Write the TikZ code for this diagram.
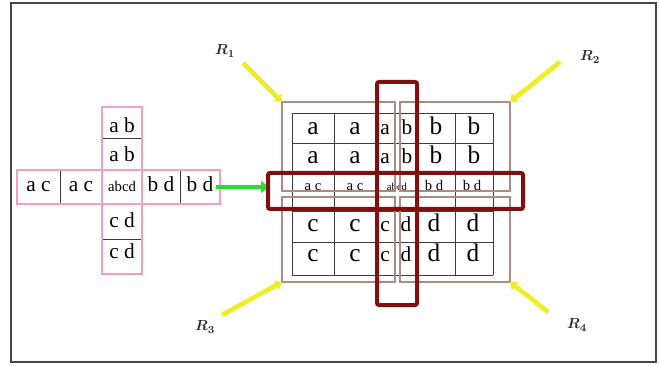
\documentclass[tikz,border=0pt]{standalone}
\usepackage{fontspec}
\setmainfont{Liberation Serif}
\usetikzlibrary{arrows.meta}

\definecolor{maroo}{RGB}{128,16,16}
\definecolor{pnk}{RGB}{242,160,190}
\definecolor{yel}{RGB}{238,238,40}
\definecolor{greeo}{RGB}{40,222,40}
\definecolor{brw}{RGB}{170,140,130}
\definecolor{frm}{RGB}{70,70,70}
\definecolor{grd}{RGB}{60,60,60}
\definecolor{lbl}{RGB}{45,45,45}

\tikzset{
    txt/.style={anchor=base,inner sep=0pt,text=black},
    big/.style={txt,font=\fontsize{19}{19}\selectfont},
    mid/.style={txt,font=\fontsize{16}{16}\selectfont},
    tiny/.style={txt,font=\fontsize{11}{11}\selectfont},
    rlbl/.style={text=lbl,inner sep=0pt,font=\fontsize{11}{11}\selectfont\boldmath},
    yarrow/.style={yel,line width=3.5pt,-{Triangle[length=5pt,width=8pt]}},
    quad/.style={brw,line width=0.9pt},
    redbox/.style={maroo,line width=3pt,rounded corners=1.5pt},
}

\begin{document}
\begin{tikzpicture}[x=0.75pt,y=-0.75pt]
    \useasboundingbox (0,0) rectangle (659,366);
    \draw[frm,line width=1.6pt] (11,3) rectangle (656,362);
    %
    % cross on the left
    \draw[grd,line width=0.7pt] (60,170) -- (60,204);
    \draw[grd,line width=0.7pt] (180,170) -- (180,204);
    \draw[grd,line width=0.7pt] (102,138) -- (142,138);
    \draw[grd,line width=0.7pt] (102,239) -- (142,239);
    \draw[pnk,line width=1pt] (17,170) rectangle (220,204);
    \draw[pnk,line width=1pt] (102,107) rectangle (142,274);
    %
    \node[mid] (ab1) at (122,133) {a b};
    \node[mid] (ab2) at (122,162) {a b};
    \node[mid] (ac1) at (38.5,192) {a c};
    \node[mid] (ac2) at (81,192) {a c};
    \node[tiny] (abcd) at (122,192) {abcd};
    \node[mid] (bd1) at (161,192) {b d};
    \node[mid] (bd2) at (200,192) {b d};
    \node[mid] (cd1) at (122,228) {c d};
    \node[mid] (cd2) at (122,258) {c d};
    %
    \coordinate (H) at (216,187);
    \coordinate (B) at (269,187);
    \draw[greeo,line width=3pt,-{Triangle[length=6pt,width=9pt]}] (H) -- (B);
    %
    % grid
    \foreach \x in {292,334,377,417,455,493}
        \draw[grd,line width=0.7pt] (\x,113) -- (\x,275);
    \foreach \y in {113,143,172,211,242,275}
        \draw[grd,line width=0.7pt] (292,\y) -- (493,\y);
    %
    \node[big] (a11) at (313,135) {a};
    \node[big] (a12) at (355,135) {a};
    \node[mid] (a13) at (385,135) {a};
    \node[mid] (b13) at (407,135) {b};
    \node[big] (b14) at (436,135) {b};
    \node[big] (b15) at (474,135) {b};
    \node[big] (a21) at (313,164) {a};
    \node[big] (a22) at (355,164) {a};
    \node[mid] (a23) at (385,164) {a};
    \node[mid] (b23) at (407,164) {b};
    \node[big] (b24) at (436,164) {b};
    \node[big] (b25) at (474,164) {b};
    %
    \node[tiny] (m1) at (313,191) {a c};
    \node[tiny] (m2) at (355,191) {a c};
    \node[font=\fontsize{8}{8}\selectfont,anchor=base,inner sep=0pt] (m3) at (397,191) {abcd};
    \node[tiny] (m4) at (434,191) {b d};
    \node[tiny] (m5) at (472,191) {b d};
    %
    \node[big] (c41) at (313,232) {c};
    \node[big] (c42) at (355,232) {c};
    \node[mid] (c43) at (385,232) {c};
    \node[mid] (d43) at (406,232) {d};
    \node[big] (d44) at (434,232) {d};
    \node[big] (d45) at (473,232) {d};
    \node[big] (c51) at (313,262) {c};
    \node[big] (c52) at (355,262) {c};
    \node[mid] (c53) at (385,262) {c};
    \node[mid] (d53) at (406,262) {d};
    \node[big] (d54) at (434,262) {d};
    \node[big] (d55) at (473,262) {d};
    %
    % the four quarters
    \coordinate (q1) at (282,102);
    \coordinate (q2) at (510,102);
    \coordinate (q3) at (282,282);
    \coordinate (q4) at (510,282);
    \draw[quad] (q1) rectangle (395,191);
    \draw[quad] (400,102) rectangle (510,191);
    \draw[quad] (282,197) rectangle (395,282);
    \draw[quad] (400,197) rectangle (q4);
    %
    \draw[redbox] (377,82) rectangle (417,305);
    \draw[redbox] (268,173) rectangle (523,209);
    %
    \node[rlbl] (R1) at (225,51) {$R_1$};
    \node[rlbl] (R2) at (590,57) {$R_2$};
    \node[rlbl] (R3) at (205,327) {$R_3$};
    \node[rlbl] (R4) at (577,325) {$R_4$};
    \coordinate (t1) at (243,63);
    \coordinate (t2) at (560,62);
    \coordinate (t3) at (222,315);
    \coordinate (t4) at (548,312);
    \draw[yarrow] (t1) -- (q1);
    \draw[yarrow] (t2) -- (q2);
    \draw[yarrow] (t3) -- (q3);
    \draw[yarrow] (t4) -- (q4);
    %
\end{tikzpicture}
\end{document}
